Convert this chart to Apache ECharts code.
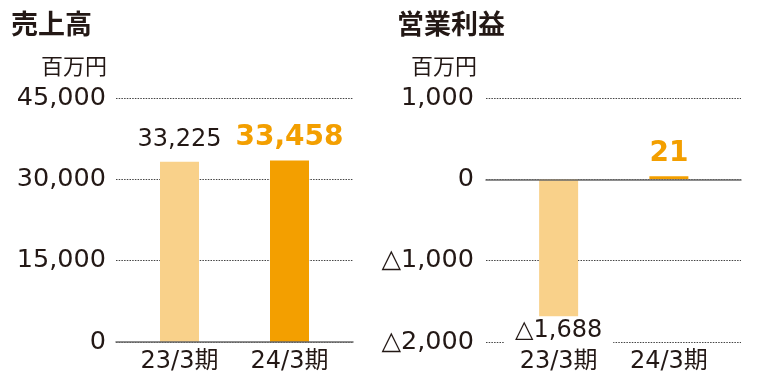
<!DOCTYPE html>
<html>
<head>
<meta charset="utf-8">
<script src="https://cdn.jsdelivr.net/npm/echarts@6/dist/echarts.min.js"></script>
<style>
html,body{margin:0;padding:0;background:#fff;}
#c{width:773px;height:380px;}
</style>
</head>
<body>
<div id="c"></div>
<script>
// ---- data ----
var categories = ['23/3期', '24/3期'];
var salesValues = [33225, 33458];
var profitValues = [-1688, 21];
var salesTitle = '売上高';
var profitTitle = '営業利益';
var unitLabel = '百万円';
var salesTicks = {min: 0, max: 45000, interval: 15000};
var profitTicks = {min: -2000, max: 1000, interval: 1000};

// ---- styles ----
var TXT = '#231815';
var LIGHT = '#F9D18A';
var DARK = '#F39F00';
var FONT = '"DejaVu Sans", "Noto Sans CJK JP", sans-serif';
var CJK = '"Noto Sans CJK JP", sans-serif';

function fmt(v) {
  var s = Math.abs(v).toString().replace(/\B(?=(\d{3})+(?!\d))/g, ',');
  return (v < 0 ? '△' : '') + s;
}

var chart = echarts.init(document.getElementById('c'), null, {renderer: 'canvas'});

var splitLine = {show: true, lineStyle: {type: [1.5, 1.2], color: '#444', width: 1}};
var zeroLine = {show: true, onZero: true, lineStyle: {color: '#6a6a6a', width: 1.5}};

function frameX(grid) {
  return {type: 'category', gridIndex: grid, data: categories, axisLine: zeroLine,
    axisTick: {show: false}, axisLabel: {show: false}, z: 5};
}
function barX(grid) {
  return {type: 'category', gridIndex: grid, data: categories,
    axisLine: {show: false, onZero: false}, axisTick: {show: false},
    axisLabel: {show: true, color: TXT, fontSize: 24, fontFamily: FONT, margin: 8}};
}
function frameY(grid, t, margin) {
  return {type: 'value', gridIndex: grid, min: t.min, max: t.max, interval: t.interval,
    axisLine: {show: false}, axisTick: {show: false}, splitLine: splitLine,
    axisLabel: {color: TXT, fontSize: 25.5, fontFamily: FONT, margin: margin, formatter: fmt}};
}
function barY(grid, t) {
  return {type: 'value', gridIndex: grid, min: t.min, max: t.max, interval: t.interval, show: false,
    splitLine: {show: false}};
}

function salesItem(v, i) {
  var last = i === salesValues.length - 1;
  return {
    value: v,
    itemStyle: {color: last ? DARK : LIGHT},
    label: last ? {fontSize: 28, fontWeight: 'bold', color: DARK, distance: 9}
                : {fontSize: 24, color: TXT, distance: 10}
  };
}
function profitItem(v, i) {
  var last = i === profitValues.length - 1;
  if (v < 0) {
    return {value: v, itemStyle: {color: last ? DARK : LIGHT},
      label: {position: 'bottom', fontSize: 24, color: TXT, distance: 0,
        backgroundColor: '#fff', padding: [2, 11, 6, 11]}};
  }
  return {
    value: v,
    itemStyle: {color: last ? DARK : LIGHT},
    label: last ? {fontSize: 28, fontWeight: 'bold', color: DARK, distance: 9}
                : {fontSize: 24, color: TXT, distance: 10}
  };
}

var option = {
  animation: false,
  backgroundColor: '#fff',
  grid: [
    {left: 116, top: 98, width: 237, height: 244},
    {left: 124.5, top: 98, width: 220, height: 244},
    {left: 486, top: 98, width: 255, height: 244},
    {left: 503.5, top: 98, width: 220.5, height: 244}
  ],
  xAxis: [frameX(0), barX(1), frameX(2), barX(3)],
  yAxis: [frameY(0, salesTicks, 10), barY(1, salesTicks), frameY(2, profitTicks, 12), barY(3, profitTicks)],
  series: [
    {type: 'bar', xAxisIndex: 1, yAxisIndex: 1, barWidth: 39, z: 3,
      data: salesValues.map(salesItem),
      label: {show: true, position: 'top', fontFamily: FONT, formatter: function (p) { return fmt(p.value); }}},
    {type: 'bar', xAxisIndex: 3, yAxisIndex: 3, barWidth: 39, barMinHeight: 3, z: 3,
      data: profitValues.map(profitItem),
      label: {show: true, position: 'top', fontFamily: FONT, formatter: function (p) { return fmt(p.value); }}}
  ],
  graphic: [
    {type: 'text', left: 11, top: 10, style: {text: salesTitle, fill: TXT, font: 'bold 27px ' + CJK}},
    {type: 'text', left: 397, top: 10, style: {text: profitTitle, fill: TXT, font: 'bold 27px ' + CJK}},
    {type: 'text', right: 773 - 107, top: 55, style: {text: unitLabel, fill: TXT, font: '22px ' + CJK}},
    {type: 'text', right: 773 - 477, top: 55, style: {text: unitLabel, fill: TXT, font: '22px ' + CJK}}
  ]
};
chart.setOption(option);
</script>
</body>
</html>
